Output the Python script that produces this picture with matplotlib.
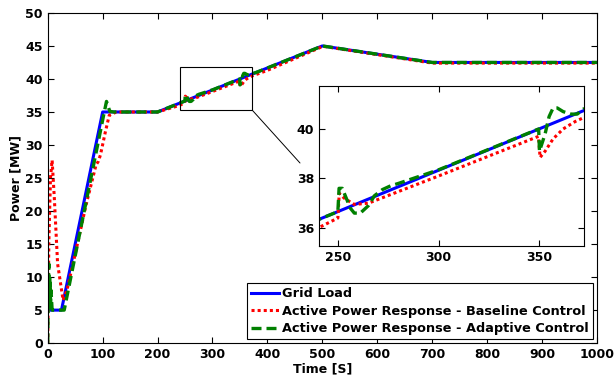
import numpy as np
import matplotlib
matplotlib.use('Agg')
import matplotlib.pyplot as plt
from matplotlib.patches import Rectangle, ConnectionPatch

# grid load profile
load_t = [0, 25, 100, 200, 500, 700, 1000]
load_p = [5, 5, 35, 35, 45, 42.5, 42.5]

# baseline control response
base_t = [0, 2, 5, 8, 12, 18, 28, 35, 50, 70, 88, 92, 96, 105, 112, 125, 200,
          240, 249.8, 250.5, 253, 258, 265, 300, 349.7, 350.5, 353, 357, 362,
          368, 372, 400, 500, 505, 700, 1000]
base_p = [0, 15, 25, 27.7, 22, 12, 6.5, 8, 13.5, 21, 27, 27.5, 28.5, 32, 34.5,
          35, 35, 36.0, 36.4, 37.4, 37.2, 36.95, 37.0, 38.1, 39.7, 38.85, 39.1,
          39.6, 40.0, 40.3, 40.45, 41.3, 44.9, 44.9, 42.4, 42.4]

# adaptive control response
adap_t = [0, 1, 2, 3, 4, 5, 6, 8, 30, 103, 107, 113, 120, 200, 249.8, 250.4,
          252, 254, 256, 258, 261, 265, 268, 272, 276, 280, 300, 349.8, 350.2,
          351, 353, 355, 357, 359, 362, 366, 369, 372, 380, 500, 700, 1000]
adap_p = [0, 8, 12, 6, 10, 5, 8, 5, 5, 35, 36.6, 35.1, 35, 35, 36.66, 37.6,
          37.6, 37.2, 36.8, 36.6, 36.6, 36.9, 37.3, 37.55, 37.7, 37.8, 38.35,
          40.0, 39.1, 39.3, 39.8, 40.5, 40.85, 40.85, 40.7, 40.6, 40.6, 40.8,
          41.0, 45, 42.5, 42.5]

plt.rcParams['font.family'] = 'DejaVu Sans'
plt.rcParams['font.weight'] = 'bold'
plt.rcParams['xtick.direction'] = 'in'
plt.rcParams['ytick.direction'] = 'in'

fig = plt.figure(figsize=(6.15, 3.8), dpi=100)
ax = fig.add_axes([0.0776, 0.097, 0.893, 0.869])

def draw(a):
    a.plot(load_t, load_p, color='#0000ff', lw=2.2, label='Grid Load')
    a.plot(base_t, base_p, color='#ff0000', lw=2.2, ls=(0, (1, 1)),
           label='Active Power Response - Baseline Control')
    a.plot(adap_t, adap_p, color='#008000', lw=2.4, ls=(0, (3, 1.5)),
           label='Active Power Response - Adaptive Control')

draw(ax)
ax.set_xlim(0, 1000)
ax.set_ylim(0, 50)
ax.set_xticks(range(0, 1001, 100))
ax.set_yticks(range(0, 51, 5))
ax.tick_params(labelsize=9, top=True, right=True, length=4, width=0.8)
ax.set_xlabel('Time [S]', fontsize=9, fontweight='bold', labelpad=1)
ax.set_ylabel('Power [MW]', fontsize=9, fontweight='bold', labelpad=2)
leg = ax.legend(loc='lower right', fontsize=9.3, handlelength=2.2,
                handletextpad=0.25, labelspacing=0.35, borderpad=0.3,
                fancybox=False, edgecolor='black', framealpha=1,
                borderaxespad=0.3)
leg.get_frame().set_linewidth(0.8)

# zoom box
x0, x1, y0, y1 = 240.5, 372.5, 35.27, 41.74
ax.add_patch(Rectangle((x0, y0), x1 - x0, y1 - y0, fill=False,
                       edgecolor='black', lw=0.8, zorder=5))

axin = fig.add_axes([0.519, 0.3526, 0.431, 0.4214])
draw(axin)
axin.set_xlim(x0, x1)
axin.set_ylim(y0, y1)
axin.set_xticks([250, 300, 350])
axin.set_yticks([36, 38, 40])
axin.tick_params(labelsize=9, top=True, right=True, length=4, width=0.8)

con = ConnectionPatch(xyA=(x1, y0), coordsA='data', axesA=ax,
                      xyB=(300 / 615, 1 - 163 / 380), coordsB='figure fraction',
                      color='black', lw=0.7)
fig.add_artist(con)

fig.savefig('out.png', dpi=100)
